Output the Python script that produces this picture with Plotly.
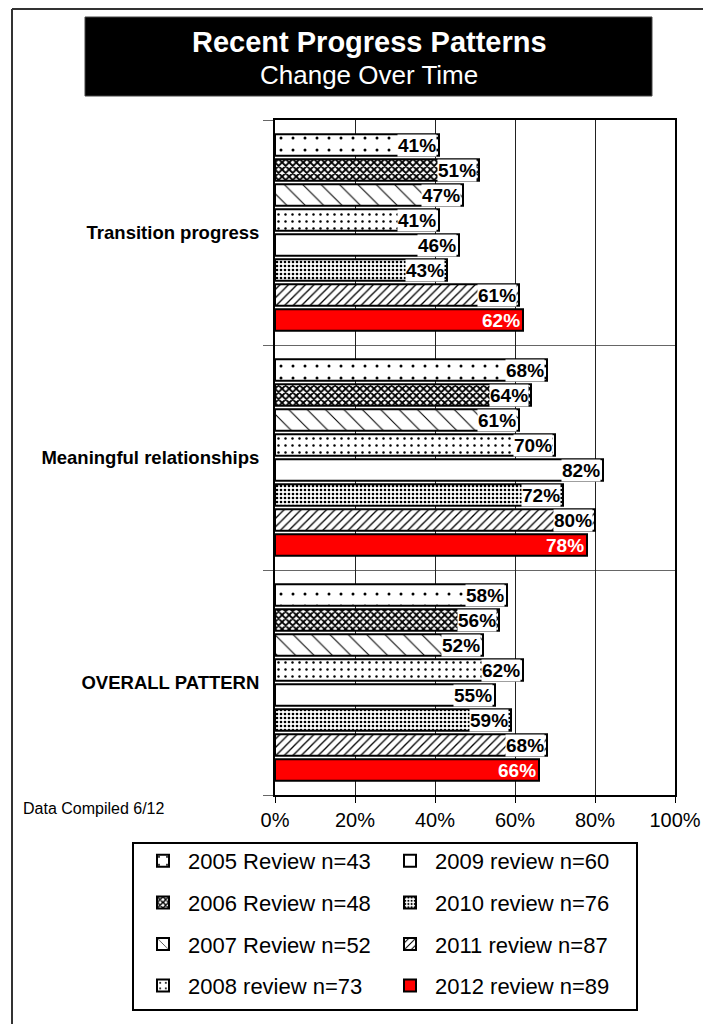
import plotly.graph_objects as go

FONT = "Liberation Sans, Arial, Helvetica, sans-serif"

# data
categories = ["Transition progress", "Meaningful relationships", "OVERALL PATTERN"]
series_names = [
    "2005 Review n=43", "2006 Review n=48", "2007 Review n=52", "2008 review n=73",
    "2009 review n=60", "2010 review n=76", "2011 review n=87", "2012 review n=89",
]
val_2005 = [41, 68, 58]
val_2006 = [51, 64, 56]
val_2007 = [47, 61, 52]
val_2008 = [41, 70, 62]
val_2009 = [46, 82, 55]
val_2010 = [43, 72, 59]
val_2011 = [61, 80, 68]
val_2012 = [62, 78, 66]
all_values = [val_2005, val_2006, val_2007, val_2008, val_2009, val_2010, val_2011, val_2012]
x_ticks = [0, 20, 40, 60, 80, 100]

# fill style per series
patterns = [
    dict(shape=".", size=12, solidity=0.05),
    dict(shape="x", size=5, solidity=0.6),
    dict(shape="\\", size=13, solidity=0.08),
    dict(shape=".", size=7, solidity=0.1),
    None,
    dict(shape=".", size=4, solidity=0.35),
    dict(shape="/", size=6, solidity=0.22),
    None,
]
fills = ["white"] * 7 + ["#ff0000"]

n_series = len(series_names)
slot = 1 / (n_series + 1)


def bar_positions(j):
    # y position of series j inside each category band (numeric axis, reversed)
    return [i + (j - (n_series - 1) / 2) * slot for i in range(len(categories))]


fig = go.Figure()
for j, name in enumerate(series_names):
    marker = dict(color=fills[j], line=dict(color="black", width=2))
    if patterns[j]:
        marker["pattern"] = dict(fgcolor="black", bgcolor="white", fillmode="replace", **patterns[j])
    fig.add_trace(go.Bar(
        x=all_values[j], y=bar_positions(j), orientation="h", width=slot * 0.86,
        name=name, marker=marker, legendgroup=str(j),
        legend="legend" if j < 4 else "legend2",
        hoverinfo="x+name",
    ))
    # value labels at the end of each bar
    for v, yp in zip(all_values[j], bar_positions(j)):
        red = fills[j] != "white"
        fig.add_annotation(
            x=v, y=yp, xref="x", yref="y", text=f"<b>{v}%</b>", showarrow=False,
            xanchor="right", yanchor="middle", xshift=-2, borderpad=0,
            bgcolor=None if red else "white",
            font=dict(family=FONT, size=19, color="white" if red else "black"),
        )


# screen pixel -> paper coords (plot area spans x 275..675, y 120..795 on screen)
def px_x(p):
    return (p - 275) / 400


def px_y(p):
    return (795 - p) / 675


# outer frame, title box, legend box
fig.add_shape(type="line", xref="paper", yref="paper", x0=px_x(12), x1=px_x(12),
              y0=px_y(9), y1=px_y(1100), line=dict(color="#333", width=2))
fig.add_shape(type="line", xref="paper", yref="paper", x0=px_x(12), x1=px_x(760),
              y0=px_y(9), y1=px_y(9), line=dict(color="#333", width=2))
fig.add_shape(type="rect", xref="paper", yref="paper", x0=px_x(85), x1=px_x(652),
              y0=px_y(17), y1=px_y(96), fillcolor="black", line=dict(color="#444", width=1))
fig.add_shape(type="rect", xref="paper", yref="paper", x0=px_x(133), x1=px_x(637),
              y0=px_y(843), y1=px_y(1010), line=dict(color="black", width=2))

fig.add_annotation(x=px_x(369), y=px_y(42), xref="paper", yref="paper", showarrow=False,
                   xanchor="center", yanchor="middle",
                   text="<b>Recent Progress Patterns</b>",
                   font=dict(family=FONT, size=29, color="white"))
fig.add_annotation(x=px_x(369), y=px_y(75), xref="paper", yref="paper", showarrow=False,
                   xanchor="center", yanchor="middle",
                   text="Change Over Time", font=dict(family=FONT, size=26, color="white"))
fig.add_annotation(x=px_x(21), y=px_y(808), xref="paper", yref="paper", showarrow=False,
                   xanchor="left", yanchor="middle", text="Data Compiled 6/12",
                   font=dict(family=FONT, size=16, color="black"))

legend_style = dict(
    yanchor="top", xanchor="left", bgcolor="rgba(0,0,0,0)", borderwidth=0,
    tracegroupgap=10, itemwidth=40, font=dict(family=FONT, size=22, color="black"),
)

fig.update_layout(
    width=711, height=1024,
    # page body adds an 8px offset, so margins are 8px smaller on the left/top
    margin=dict(l=267, r=44, t=112, b=237),
    paper_bgcolor="white", plot_bgcolor="white",
    font=dict(family=FONT, color="black"),
    barmode="overlay",
    showlegend=True,
    legend=dict(x=px_x(138), y=px_y(840), **legend_style),
    legend2=dict(x=px_x(385), y=px_y(840), **legend_style),
    xaxis=dict(
        range=[0, 100], tickvals=x_ticks, ticktext=[f"{v}%" for v in x_ticks],
        showgrid=True, gridcolor="#222", gridwidth=1, zeroline=False,
        showline=True, linecolor="black", linewidth=2, mirror=True,
        ticks="outside", ticklen=6, tickcolor="black",
        tickfont=dict(family=FONT, size=20, color="black"),
    ),
    yaxis=dict(
        range=[2.5, -0.5], tickvals=list(range(len(categories))),
        ticktext=[f"<b>{c}</b>" for c in categories],
        tickfont=dict(family=FONT, size=18.5, color="black"),
        ticks="", ticklabelstandoff=10,
        showgrid=False, zeroline=False,
        showline=True, linecolor="black", linewidth=2, mirror=True,
        minor=dict(tickvals=[-0.5, 0.5, 1.5, 2.5], ticks="outside", ticklen=10,
                   tickcolor="#666", showgrid=True, gridcolor="#666", gridwidth=1),
    ),
)

fig.write_html("out.html")
